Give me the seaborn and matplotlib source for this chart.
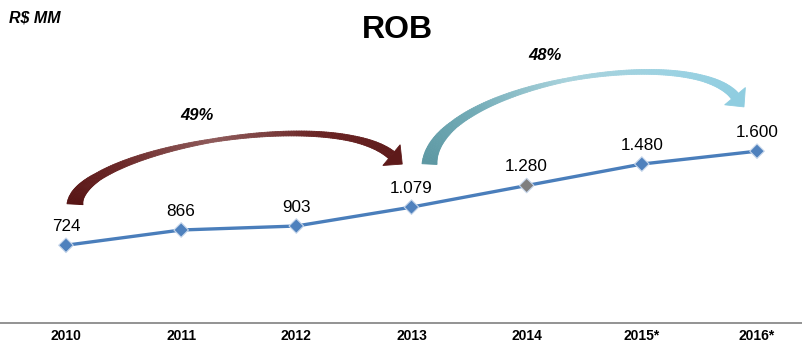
import matplotlib
matplotlib.use("Agg")
import matplotlib.pyplot as plt
import seaborn as sns
import numpy as np
import pandas as pd
from matplotlib.collections import PolyCollection
from matplotlib.colors import to_rgb

years = ["2010", "2011", "2012", "2013", "2014", "2015*", "2016*"]
rob = [724, 866, 903, 1079, 1280, 1480, 1600]
labels = ["724", "866", "903", "1.079", "1.280", "1.480", "1.600"]
growth_labels = ["49%", "48%"]

sns.set_style("white")
plt.rcParams['font.family'] = ['Liberation Sans', 'DejaVu Sans']
plt.rcParams['text.color'] = 'black'
plt.rcParams['xtick.color'] = 'black'

df = pd.DataFrame({"idx": np.arange(len(years)), "rob": rob, "year": years})

fig = plt.figure(figsize=(8.02, 3.45), dpi=100)
ax = fig.add_axes([0, 22/345, 1, 1 - 22/345])

sns.lineplot(data=df, x="idx", y="rob", ax=ax, color="#4a7ebb", linewidth=2.4, zorder=2)
mcolors = ["#4f81bd"] * len(years)
mcolors[4] = "#7f7f7f"
ax.scatter(df["idx"], df["rob"], marker="D", s=55, c=mcolors, edgecolors="#c5d5ea",
           linewidths=0.8, zorder=3)

for i, (v, lab) in enumerate(zip(rob, labels)):
    ax.annotate(lab, (i, v), xytext=(0, 8), textcoords="offset points",
                ha="center", va="bottom", fontsize=12.3, color="black")

ax.set_xlim(-66/115.2, 6 + 45/115.2)
ax.set_ylim(0, 322.7/0.1073)
ax.set_xticks(df["idx"])
ax.set_xticklabels(years, fontsize=10, fontweight="bold")
ax.tick_params(axis="x", length=0, pad=4)
ax.set_yticks([])
ax.set_xlabel("")
ax.set_ylabel("")
for s in ["top", "right", "left"]:
    ax.spines[s].set_visible(False)
ax.spines["bottom"].set_color("#808080")
ax.spines["bottom"].set_linewidth(1.2)


def grad_arrow(p0, p1, p2, p3, wpos, widths, colors, head_len, head_w):
    """Tapered cubic-bezier arrow with colour gradient, in display coords."""
    P = [np.array(p, float) for p in (p0, p1, p2, p3)]
    t = np.linspace(0, 1, 160)[:, None]
    pts = ((1-t)**3)*P[0] + 3*((1-t)**2)*t*P[1] + 3*(1-t)*(t**2)*P[2] + (t**3)*P[3]
    d = 3*((1-t)**2)*(P[1]-P[0]) + 6*(1-t)*t*(P[2]-P[1]) + 3*(t**2)*(P[3]-P[2])
    d = d / np.linalg.norm(d, axis=1)[:, None]
    n = np.column_stack([-d[:, 1], d[:, 0]])
    tt = t[:, 0]
    w = np.interp(tt, wpos, widths)
    left = pts + n * (w/2)[:, None]
    right = pts - n * (w/2)[:, None]
    cstops = np.array([to_rgb(c) for c in colors])
    pos = np.linspace(0, 1, len(colors))
    cols = np.column_stack([np.interp(tt, pos, cstops[:, k]) for k in range(3)])
    inv = ax.transData.inverted()
    polys, fc = [], []
    for k in range(len(tt) - 1):
        quad = np.array([left[k], left[k+1], right[k+1], right[k]])
        polys.append(inv.transform(quad))
        fc.append(cols[k])
    pc = PolyCollection(polys, facecolors=fc, edgecolors=fc, linewidths=0.6, zorder=1)
    ax.add_collection(pc)
    dend = d[-1]
    nend = n[-1]
    base = pts[-1]
    tip = base + dend * head_len
    tri = np.array([base + nend*head_w/2, tip, base - nend*head_w/2])
    ax.fill(*inv.transform(tri).T, color=cols[-1], lw=0.6, ec=cols[-1], zorder=1)


fig.canvas.draw()
disp = ax.transData.transform(np.column_stack([df["idx"], df["rob"]]))

# 2010 -> 2013 arrow
s0 = disp[0] + [9, 41]
e0 = disp[3] + [-20, 52]
grad_arrow(s0, s0 + [3, 54], e0 + [-60, 50], e0,
           [0, 0.18, 0.5, 0.85, 1], [16, 8, 3.5, 6, 9],
           ["#561414", "#6a2626", "#8e5a5a", "#6a2424", "#5e1a1a"], 14, 27)

# 2013 -> 2016 arrow
s1 = disp[3] + [18, 43]
e1 = disp[6] + [-22, 55]
grad_arrow(s1, s1 + [4, 80], e1 + [-45, 54], e1,
           [0, 0.18, 0.5, 0.85, 1], [15, 8, 3.5, 6, 9],
           ["#5c97a2", "#72abb6", "#a8d2dc", "#9cd2e2", "#8fcde0"], 14, 27)

ax.text(1.14, (322.7-115)/0.1073, growth_labels[0], ha="center", va="center",
        fontsize=12, fontweight="bold", fontstyle="italic")
ax.text(4.16, (322.7-55)/0.1073, growth_labels[1], ha="center", va="center",
        fontsize=12, fontweight="bold", fontstyle="italic")

fig.text(397/802, 1 - 30/345, "ROB", ha="center", va="center", fontsize=23, fontweight="bold")
fig.text(9/802, 1 - 18/345, "R$ MM", ha="left", va="center", fontsize=11.5,
         fontweight="bold", fontstyle="italic")

fig.savefig("out.png", dpi=100)
